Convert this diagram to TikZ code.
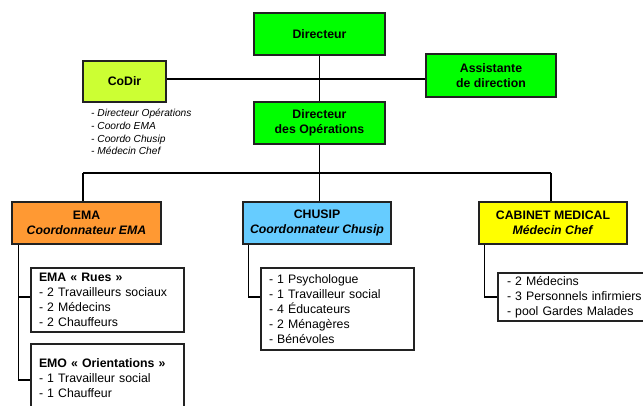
\documentclass[tikz,border=0pt]{standalone}
\usepackage{fontspec}
\setmainfont{Liberation Sans}
\definecolor{cgreen}{HTML}{00FF00}
\definecolor{ccodir}{HTML}{CCFF33}
\definecolor{corange}{HTML}{FF9933}
\definecolor{cblue}{HTML}{66CCFF}
\definecolor{cyellow}{HTML}{FFFF00}
\definecolor{cborder}{HTML}{222222}
\begin{document}
\begin{tikzpicture}[x=1pt,y=-1pt,
  box/.style={draw=cborder,line width=1.2pt,inner sep=0pt,align=center,
    font=\fontsize{12.3}{14.8}\selectfont\bfseries},
  listbox/.style={draw=cborder,line width=1.2pt,inner xsep=8pt,inner ysep=0pt,align=left,
    font=\fontsize{12.3}{14.9}\selectfont},
  link/.style={line width=1.1pt,draw=black}]
\clip (0,0) rectangle (643,405);
\fill[white] (0,0) rectangle (643,405);
% top level
\node[box,fill=cgreen,minimum width=131pt,minimum height=42pt] (dir) at (319.5,34) {Directeur};
\node[box,fill=ccodir,minimum width=83pt,minimum height=41pt] (codir) at (124.5,81.5) {CoDir};
\node[box,fill=cgreen,minimum width=130pt,minimum height=43pt] (assist) at (491,75.5) {Assistante\\de direction};
\node[box,fill=cgreen,minimum width=131pt,minimum height=42pt] (dirop) at (319.5,123) {Directeur\\des Opérations};
\node[anchor=west,align=left,inner sep=0pt,font=\fontsize{10.2}{12.6}\selectfont\itshape] (codirlist) at (91,132)
  {- Directeur Opérations\\- Coordo EMA\\- Coordo Chusip\\- Médecin Chef};
% departments
\node[box,fill=corange,minimum width=149pt,minimum height=42pt] (ema) at (86.5,223) {EMA\\\textit{Coordonnateur EMA}};
\node[box,fill=cblue,minimum width=148pt,minimum height=42pt] (chusip) at (317,223) {CHUSIP\\\textit{Coordonnateur Chusip}};
\node[box,fill=cyellow,minimum width=148pt,minimum height=42pt] (cab) at (553,223) {CABINET MEDICAL\\\textit{Médecin Chef}};
% lists
\node[listbox,text width=137pt,minimum height=64pt] (rues) at (107.5,300)
  {\textbf{EMA « Rues »}\\- 2 Travailleurs sociaux\\- 2 Médecins\\- 2 Chauffeurs};
\node[listbox,text width=137pt,minimum height=68pt] (emo) at (107.5,378)
  {\textbf{EMO « Orientations »}\\- 1 Travailleur social\\- 1 Chauffeur};
\node[listbox,text width=137pt,minimum height=82pt] (chlist) at (337.5,309)
  {- 1 Psychologue\\- 1 Travailleur social\\- 4 Éducateurs\\- 2 Ménagères\\- Bénévoles};
\node[listbox,text width=137pt,minimum height=48pt,inner xsep=9pt] (cablist) at (575.5,297)
  {- 2 Médecins\\- 3 Personnels infirmiers\\- pool Gardes Malades};
% connectors
\coordinate (hl) at (320,79);
\coordinate (busL) at (83,173);
\coordinate (busM) at (319.5,173);
\coordinate (busR) at (551,173);
\draw[link] (dir) -- (dirop);
\draw[link] (codir.east |- hl) -- (assist.west |- hl);
\draw[link] (dirop.south) -- (busM);
\draw[link] (busL) -- (busR);
\draw[link] (busL) -- (busL |- ema.north);
\draw[link] (busM) -- (busM |- chusip.north);
\draw[link] (busR) -- (busR |- cab.north);
\draw[link] ([xshift=7pt]ema.south west) |- ([yshift=3pt]rues.west);
\draw[link] ([xshift=7pt]ema.south west) |- ([yshift=-2pt]emo.west);
\draw[link] ([xshift=6pt]chusip.south west) |- ([yshift=12pt]chlist.west);
\draw[link] ([xshift=6pt]cab.south west) |- (cablist.west);
\end{tikzpicture}
\end{document}
